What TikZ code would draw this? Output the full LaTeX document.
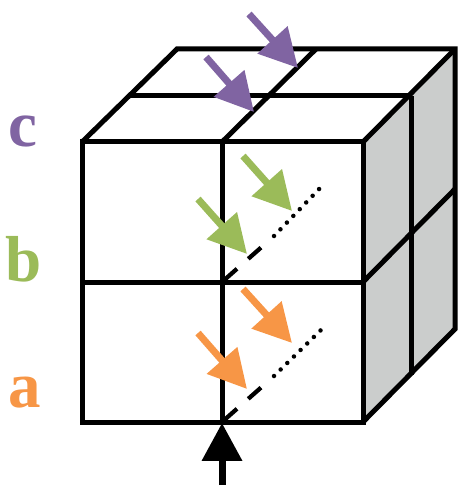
\documentclass[tikz,border=0pt]{standalone}
\usepackage{fontspec}
\setmainfont{Liberation Serif}
\usetikzlibrary{arrows.meta,positioning}
\definecolor{sidegray}{RGB}{203, 205, 204}
\definecolor{layerc}{RGB}{128, 100, 162}
\definecolor{layerb}{RGB}{155, 187, 89}
\definecolor{layera}{RGB}{247, 150, 70}

\begin{document}
\begin{tikzpicture}[
    x=0.02cm, y=-0.02cm,
    edge/.style={line width=0.1cm, black, line join=miter},
    beam/.style={line width=0.14cm, draw=#1, -{Triangle[length=0.76cm, width=0.78cm, fill=#1]}},
    dashpart/.style={line width=0.085cm, black, dash pattern=on 0.4cm off 0.3cm on 0.34cm off 2cm},
    dotpart/.style={line width=0.09cm, black, line cap=round, dash pattern=on 0pt off 0.186cm},
    letter/.style={font=\fontsize{37}{37}\selectfont\bfseries, inner sep=0pt, text=#1}
]
\useasboundingbox (0,0) rectangle (457,486);

% Side faces
\fill[sidegray] (363,142) -- (455,49) -- (455,329) -- (363,422) -- cycle;

% Front face
\draw[edge] (82,142) rectangle (363,422);
\draw[edge] (222,142) -- (222,422);
\draw[edge] (82,282) -- (363,282);

% Top face
\draw[edge] (82,142) -- (177,49) -- (455,49) -- (455,329) -- (363,422);
\draw[edge] (363,142) -- (455,49);
\draw[edge] (130,96) -- (411,96);
\draw[edge] (222,142) -- (316,49);

% Right face
\draw[edge] (411,96) -- (411,375);
\draw[edge] (363,282) -- (455,189);

% Hidden axes
\draw[dashpart] (222,422) -- (273,377);
\draw[dotpart] (274,376) -- (322,329);
\draw[dashpart] (222,282) -- (273,237);
\draw[dotpart] (274,236) -- (322,186);

% Beams, top layer
\coordinate (c1s) at (249,14);
\coordinate (c1e) at (298,68);
\coordinate (c2s) at (206,57);
\coordinate (c2e) at (254,112);
\draw[beam=layerc] (c1s) -- (c1e);
\draw[beam=layerc] (c2s) -- (c2e);

% Beams, middle layer
\coordinate (b1s) at (243,156);
\coordinate (b1e) at (292,211);
\coordinate (b2s) at (198,199);
\coordinate (b2e) at (247,254);
\draw[beam=layerb] (b1s) -- (b1e);
\draw[beam=layerb] (b2s) -- (b2e);

% Beams, bottom layer
\coordinate (a1s) at (243,289);
\coordinate (a1e) at (292,343);
\coordinate (a2s) at (198,333);
\coordinate (a2e) at (247,389);
\draw[beam=layera] (a1s) -- (a1e);
\draw[beam=layera] (a2s) -- (a2e);

% Incoming arrow
\coordinate (ins) at (222,485);
\coordinate (ine) at (222,423);
\draw[beam=black] (ins) -- (ine);

% Letters
\node[letter=layerc] (lc) at (22.5,131) {c};
\node[letter=layerb] (lb) at (23.5,259) {b};
\node[letter=layera] (la) at (24.5,392.5) {a};

\end{tikzpicture}
\end{document}
